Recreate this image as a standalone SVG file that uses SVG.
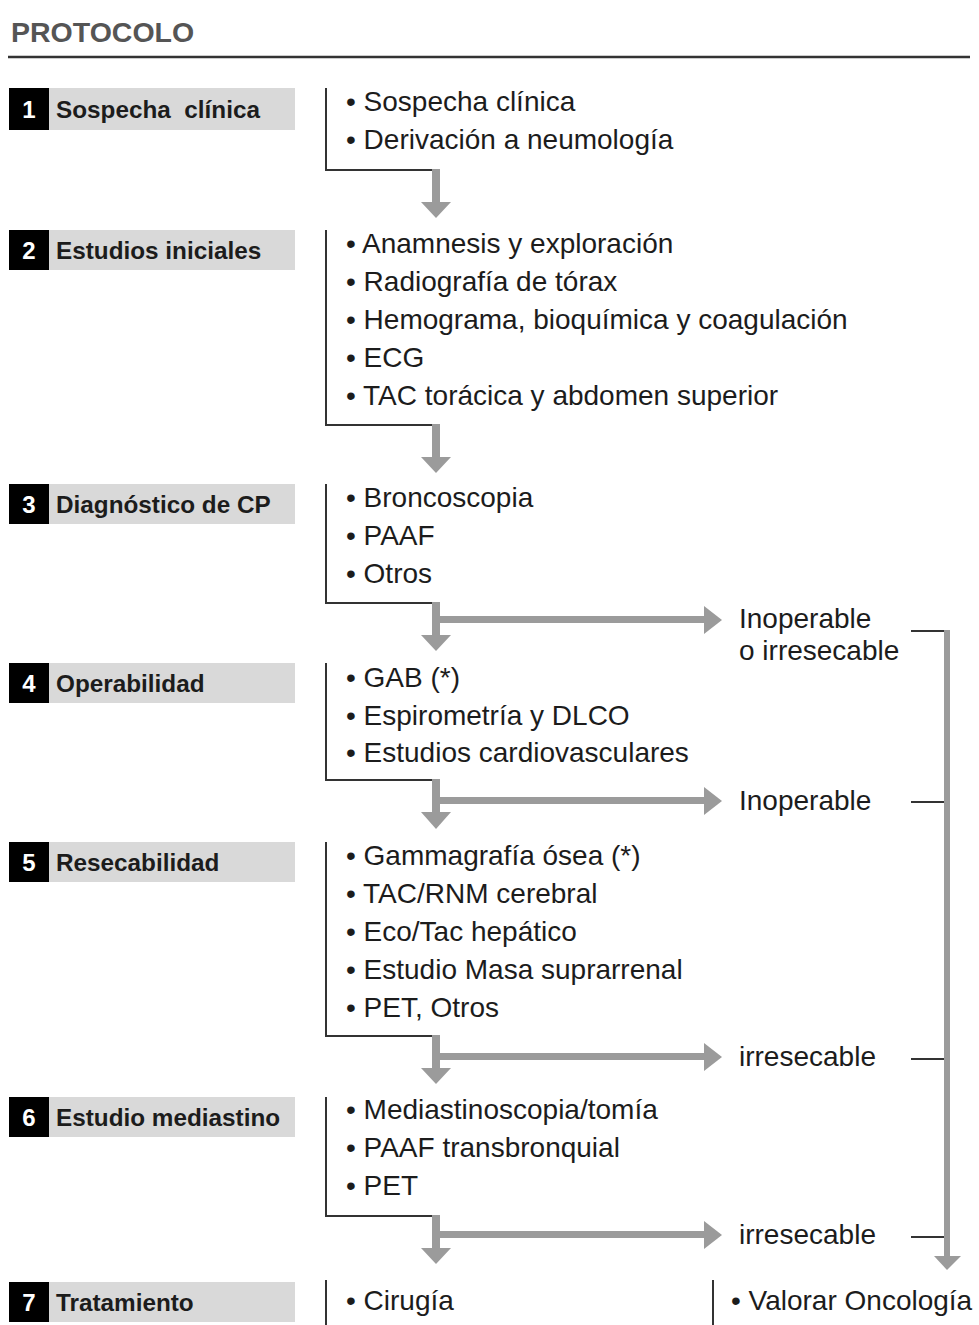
<svg xmlns="http://www.w3.org/2000/svg" width="979" height="1325" viewBox="0 0 979 1325">
<defs>
<style>
.title{font-family:"Liberation Sans",Arial,sans-serif;font-weight:bold;font-size:28.5px;fill:#555}
.num{font-family:"Liberation Sans",Arial,sans-serif;font-weight:bold;font-size:24px;fill:#fff}
.lbl{font-family:"Liberation Sans",Arial,sans-serif;font-weight:bold;font-size:24.3px;fill:#1c1c1c;white-space:pre}
.item{font-family:"Liberation Sans",Arial,sans-serif;font-size:28px;fill:#1c1c1c}
.nb{fill:#000}
.gb{fill:#d9d9d9}
.ln{stroke:#333;stroke-width:2;fill:none}
.ga{fill:#9b9b9b}
</style>
</defs>
<rect width="979" height="1325" fill="#fff"/>
<text class="title" x="11" y="42">PROTOCOLO</text>
<line x1="8" y1="57" x2="970" y2="57" stroke="#333" stroke-width="2.5"/>

<g id="node1">
<rect class="gb" x="49" y="88" width="246" height="42"/>
<rect class="nb" x="9" y="88" width="40" height="42"/>
<text class="num" x="29" y="118" text-anchor="middle">1</text>
<text class="lbl" x="56" y="118">Sospecha  clínica</text>
<text class="item" x="346" y="111">• Sospecha clínica</text>
<text class="item" x="346" y="149">• Derivación a neumología</text>
</g>
<g id="node2">
<rect class="gb" x="49" y="230" width="246" height="40"/>
<rect class="nb" x="9" y="230" width="40" height="40"/>
<text class="num" x="29" y="259" text-anchor="middle">2</text>
<text class="lbl" x="56" y="259">Estudios iniciales</text>
<text class="item" x="346" y="253">• Anamnesis y exploración</text>
<text class="item" x="346" y="291">• Radiografía de tórax</text>
<text class="item" x="346" y="329">• Hemograma, bioquímica y coagulación</text>
<text class="item" x="346" y="367">• ECG</text>
<text class="item" x="346" y="405">• TAC torácica y abdomen superior</text>
</g>
<g id="node3">
<rect class="gb" x="49" y="484" width="246" height="40"/>
<rect class="nb" x="9" y="484" width="40" height="40"/>
<text class="num" x="29" y="513" text-anchor="middle">3</text>
<text class="lbl" x="56" y="513">Diagnóstico de CP</text>
<text class="item" x="346" y="507">• Broncoscopia</text>
<text class="item" x="346" y="545">• PAAF</text>
<text class="item" x="346" y="583">• Otros</text>
</g>
<g id="node4">
<rect class="gb" x="49" y="663" width="246" height="40"/>
<rect class="nb" x="9" y="663" width="40" height="40"/>
<text class="num" x="29" y="692" text-anchor="middle">4</text>
<text class="lbl" x="56" y="692">Operabilidad</text>
<text class="item" x="346" y="687">• GAB (*)</text>
<text class="item" x="346" y="725">• Espirometría y DLCO</text>
<text class="item" x="346" y="762">• Estudios cardiovasculares</text>
</g>
<g id="node5">
<rect class="gb" x="49" y="842" width="246" height="40"/>
<rect class="nb" x="9" y="842" width="40" height="40"/>
<text class="num" x="29" y="871" text-anchor="middle">5</text>
<text class="lbl" x="56" y="871">Resecabilidad</text>
<text class="item" x="346" y="865">• Gammagrafía ósea (*)</text>
<text class="item" x="346" y="903">• TAC/RNM cerebral</text>
<text class="item" x="346" y="941">• Eco/Tac hepático</text>
<text class="item" x="346" y="979">• Estudio Masa suprarrenal</text>
<text class="item" x="346" y="1017">• PET, Otros</text>
</g>
<g id="node6">
<rect class="gb" x="49" y="1097" width="246" height="40"/>
<rect class="nb" x="9" y="1097" width="40" height="40"/>
<text class="num" x="29" y="1126" text-anchor="middle">6</text>
<text class="lbl" x="56" y="1126">Estudio mediastino</text>
<text class="item" x="346" y="1119">• Mediastinoscopia/tomía</text>
<text class="item" x="346" y="1157">• PAAF transbronquial</text>
<text class="item" x="346" y="1195">• PET</text>
</g>
<g id="node7">
<rect class="gb" x="49" y="1282" width="246" height="40"/>
<rect class="nb" x="9" y="1282" width="40" height="40"/>
<text class="num" x="29" y="1311" text-anchor="middle">7</text>
<text class="lbl" x="56" y="1311">Tratamiento</text>
<text class="item" x="346" y="1310">• Cirugía</text>
</g>
<g id="node8">
<text class="item" x="731" y="1310">• Valorar Oncología</text>
</g>
<g id="branchlabels">
<text class="item" x="739" y="628">Inoperable</text>
<text class="item" x="739" y="660">o irresecable</text>
<text class="item" x="739" y="810">Inoperable</text>
<text class="item" x="739" y="1066">irresecable</text>
<text class="item" x="739" y="1244">irresecable</text>
</g>

<g id="connectors">
<path class="ln" d="M326 88V170H438"/>
<path class="ln" d="M326 230V425H438"/>
<path class="ln" d="M326 484V603H438"/>
<path class="ln" d="M326 663V780H438"/>
<path class="ln" d="M326 842V1036H438"/>
<path class="ln" d="M326 1097V1216H438"/>
<path class="ln" d="M326 1280V1325"/>
<path class="ln" d="M713 1280V1325"/>

<rect class="ga" x="432" y="169" width="8" height="33"/>
<polygon class="ga" points="421,202 451,202 436,218"/>
<rect class="ga" x="432" y="424" width="8" height="33"/>
<polygon class="ga" points="421,457 451,457 436,473"/>

<rect class="ga" x="432" y="602" width="8" height="33"/>
<polygon class="ga" points="421,635 451,635 436,651"/>
<rect class="ga" x="440" y="616" width="266" height="7"/>
<polygon class="ga" points="704,606 722,620 704,634"/>

<rect class="ga" x="432" y="779" width="8" height="33"/>
<polygon class="ga" points="421,812 451,812 436,829"/>
<rect class="ga" x="440" y="797" width="266" height="7"/>
<polygon class="ga" points="704,787 722,801 704,815"/>

<rect class="ga" x="432" y="1035" width="8" height="33"/>
<polygon class="ga" points="421,1068 451,1068 436,1084"/>
<rect class="ga" x="440" y="1053" width="266" height="7"/>
<polygon class="ga" points="704,1043 722,1057 704,1071"/>

<rect class="ga" x="432" y="1215" width="8" height="33"/>
<polygon class="ga" points="421,1248 451,1248 436,1264"/>
<rect class="ga" x="440" y="1231" width="266" height="7"/>
<polygon class="ga" points="704,1221 722,1235 704,1249"/>

<path class="ln" d="M911 631H946M911 802H946M911 1059H946M911 1237H946"/>
<rect class="ga" x="944" y="630" width="6" height="627"/>
<polygon class="ga" points="934,1256 961,1256 947,1270"/>
</g>
</svg>
